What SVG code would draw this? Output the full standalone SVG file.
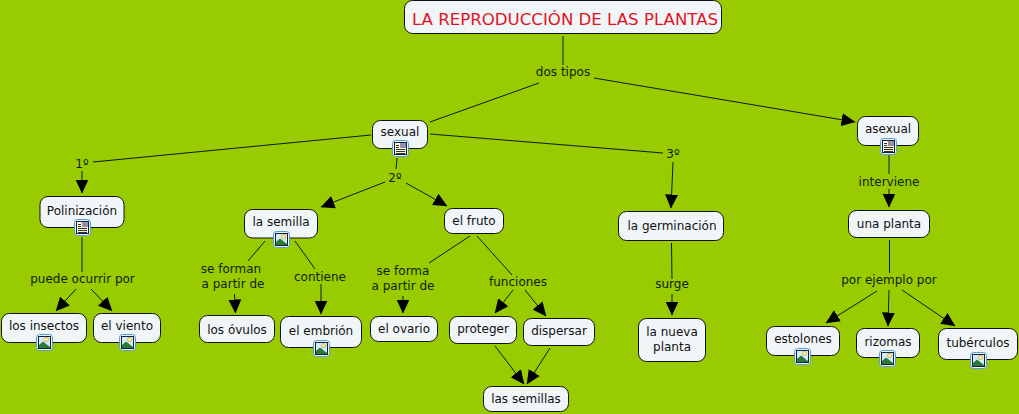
<svg xmlns="http://www.w3.org/2000/svg" xmlns:xlink="http://www.w3.org/1999/xlink" width="1019" height="414" viewBox="0 0 1019 414">
<style>
text{font-family:"DejaVu Sans","Liberation Sans",sans-serif;font-size:12px;fill:#111;text-anchor:middle}
.l{fill:#0f2200}
.t{font-size:16.6px;fill:#e0141e}
.n{fill:#f0f5f8;stroke:#111;stroke-width:1}
#connectors line{stroke:#0a1a00;stroke-width:1}
.a{marker-end:url(#arrow)}
</style>
<defs>
<marker id="arrow" markerUnits="userSpaceOnUse" viewBox="0 0 14 14" markerWidth="14" markerHeight="14" refX="13.5" refY="7" orient="auto"><path d="M0 0.500L14 7L0 13.500z" fill="#000"/></marker>
<g id="ib"><rect x="0.500" y="0.500" width="16" height="16" rx="3" fill="#e8f3fc" stroke="#5b9bd5"/><rect x="2.500" y="2.500" width="12" height="12" fill="#d5eafa" stroke="#0d2238"/></g>
<g id="doc"><use xlink:href="#ib"/><rect x="3" y="3" width="11" height="11" fill="#fdf8d8"/><path d="M4 5.500h3M4 7.500h3M4 9.500h9M4 11.500h9M4 13.500h9" stroke="#1a1a1a" stroke-width=".9" fill="none"/><rect x="8" y="3" width="6" height="5" fill="#8f93b5"/><path d="M9 4l3 3" stroke="#cf6a6a"/></g>
<g id="img"><use xlink:href="#ib"/><circle cx="10.500" cy="5.500" r="2" fill="#fff3a8" stroke="#c9a020" stroke-width=".7"/><path d="M3 14V11L7 7.500L14 13V14z" fill="#2a7a3a"/></g>
</defs>
<rect width="1019" height="414" fill="#99cc00"/>
<g id="connectors">
<line x1="563" y1="36" x2="563" y2="65"/>
<line x1="539" y1="83" x2="430" y2="122"/>
<line class="a" x1="594" y1="78" x2="855" y2="122"/>
<line x1="371" y1="135" x2="93" y2="162"/>
<line class="a" x1="82" y1="171" x2="82" y2="193"/>
<line x1="430" y1="134" x2="663" y2="153"/>
<line class="a" x1="673" y1="162" x2="671" y2="208"/>
<line x1="397" y1="158" x2="396" y2="169"/>
<line class="a" x1="385" y1="182" x2="321" y2="207"/>
<line class="a" x1="406" y1="183" x2="447" y2="206"/>
<line x1="82" y1="237" x2="82" y2="272"/>
<line class="a" x1="76" y1="289" x2="56" y2="311"/>
<line class="a" x1="91" y1="289" x2="112" y2="311"/>
<line x1="265" y1="241" x2="248" y2="261"/>
<line class="a" x1="234.500" y1="294" x2="235.500" y2="313"/>
<line x1="295" y1="241" x2="315" y2="269"/>
<line class="a" x1="321" y1="284" x2="321" y2="314"/>
<line x1="470" y1="236" x2="429" y2="263"/>
<line class="a" x1="403" y1="296" x2="403" y2="313"/>
<line x1="477" y1="236" x2="512" y2="275"/>
<line class="a" x1="513" y1="290" x2="495" y2="313"/>
<line class="a" x1="525" y1="290" x2="546" y2="316"/>
<line class="a" x1="495" y1="346" x2="524" y2="384"/>
<line class="a" x1="550" y1="348" x2="527" y2="384"/>
<line x1="671.500" y1="243" x2="672" y2="279"/>
<line class="a" x1="672" y1="294" x2="672" y2="315"/>
<line x1="889" y1="155" x2="889" y2="174"/>
<line class="a" x1="889" y1="189" x2="889" y2="207"/>
<line x1="889.500" y1="240" x2="889.500" y2="273"/>
<line class="a" x1="877" y1="291" x2="826" y2="323"/>
<line class="a" x1="889" y1="290" x2="888" y2="326"/>
<line class="a" x1="902" y1="290" x2="955" y2="326"/>
</g>
<g id="link-labels">
<text class="l" x="563" y="76">dos tipos</text>
<text class="l" x="82" y="168">1º</text>
<text class="l" x="395" y="182">2º</text>
<text class="l" x="673" y="158">3º</text>
<text class="l" x="82.500" y="283">puede ocurrir por</text>
<text class="l" x="231" y="273">se forman</text>
<text class="l" x="233" y="288">a partir de</text>
<text class="l" x="320" y="281">contiene</text>
<text class="l" x="403" y="275">se forma</text>
<text class="l" x="403" y="290">a partir de</text>
<text class="l" x="518" y="286">funciones</text>
<text class="l" x="672" y="288">surge</text>
<text class="l" x="889" y="186">interviene</text>
<text class="l" x="889" y="284">por ejemplo por</text>
</g>
<g id="n-title"><rect class="n" x="404.500" y="0.500" width="317" height="33" rx="8"/><text class="t" x="565" y="25">LA REPRODUCCIÓN DE LAS PLANTAS</text></g>
<g id="n-sexual"><rect class="n" x="372.500" y="120.500" width="55" height="28" rx="8"/><text x="400" y="136">sexual</text><use xlink:href="#doc" x="392" y="140"/></g>
<g id="n-asexual"><rect class="n" x="857.500" y="116.500" width="61" height="29" rx="8"/><text x="888" y="133">asexual</text><use xlink:href="#doc" x="880" y="138"/></g>
<g id="n-polinizacion"><rect class="n" x="40" y="196.500" width="84" height="31" rx="8"/><text x="82" y="215">Polinización</text><use xlink:href="#doc" x="74" y="219"/></g>
<g id="n-semilla"><rect class="n" x="244.500" y="209.500" width="73" height="28.500" rx="8"/><text x="281" y="226">la semilla</text><use xlink:href="#img" x="273" y="231"/></g>
<g id="n-fruto"><rect class="n" x="444.500" y="208.500" width="59" height="25" rx="8"/><text x="474" y="225">el fruto</text></g>
<g id="n-germinacion"><rect class="n" x="618.500" y="211.500" width="105" height="29" rx="8"/><text x="672" y="230">la germinación</text></g>
<g id="n-unaplanta"><rect class="n" x="848.500" y="210.500" width="81" height="27" rx="8"/><text x="889" y="228">una planta</text></g>
<g id="n-insectos"><rect class="n" x="1.500" y="313.500" width="85" height="29" rx="8"/><text x="44" y="330">los insectos</text><use xlink:href="#img" x="36" y="334"/></g>
<g id="n-viento"><rect class="n" x="93.500" y="313.500" width="67" height="29" rx="8"/><text x="127" y="330">el viento</text><use xlink:href="#img" x="119" y="334"/></g>
<g id="n-ovulos"><rect class="n" x="199.500" y="315.500" width="75" height="27" rx="8"/><text x="237" y="334">los óvulos</text></g>
<g id="n-embrion"><rect class="n" x="280.500" y="316.500" width="81" height="31" rx="8"/><text x="321" y="335">el embrión</text><use xlink:href="#img" x="313" y="340"/></g>
<g id="n-ovario"><rect class="n" x="370.500" y="316.500" width="67" height="25" rx="8"/><text x="404" y="333">el ovario</text></g>
<g id="n-proteger"><rect class="n" x="449.500" y="316.500" width="67" height="27" rx="8"/><text x="483" y="333">proteger</text></g>
<g id="n-dispersar"><rect class="n" x="523.500" y="318.500" width="71" height="27" rx="8"/><text x="559" y="335">dispersar</text></g>
<g id="n-semillas"><rect class="n" x="483.500" y="386.500" width="85" height="25" rx="8"/><text x="526" y="403">las semillas</text></g>
<g id="n-nueva"><rect class="n" x="638.500" y="318.500" width="67" height="43" rx="8"/><text x="672" y="336">la nueva</text><text x="672" y="351">planta</text></g>
<g id="n-estolones"><rect class="n" x="766.500" y="326.500" width="73" height="29" rx="8"/><text x="803" y="343">estolones</text><use xlink:href="#img" x="794" y="348"/></g>
<g id="n-rizomas"><rect class="n" x="856.500" y="328.500" width="63" height="29" rx="8"/><text x="888" y="346">rizomas</text><use xlink:href="#img" x="879" y="350"/></g>
<g id="n-tuberculos"><rect class="n" x="938.500" y="328.500" width="79" height="31" rx="8"/><text x="978" y="347">tubérculos</text><use xlink:href="#img" x="970" y="352"/></g>
</svg>
